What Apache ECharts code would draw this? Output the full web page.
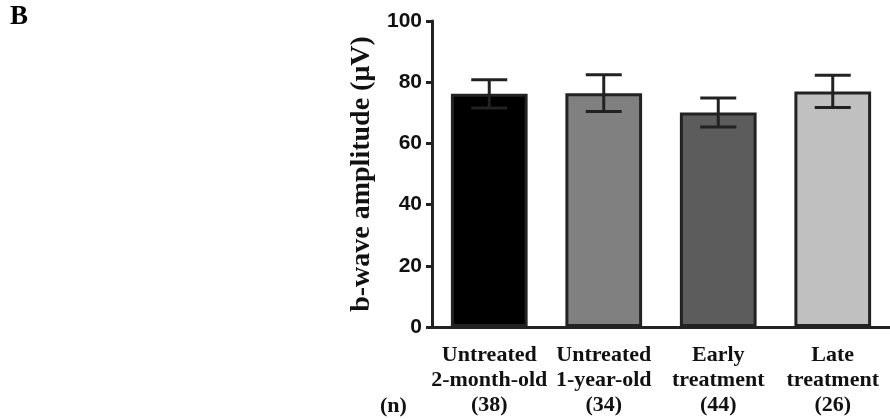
<!DOCTYPE html>
<html>
<head>
<meta charset="utf-8">
<script src="https://cdn.jsdelivr.net/npm/echarts@6/dist/echarts.min.js"></script>
<style>
html,body{margin:0;padding:0;background:#fff;}
#container{width:890px;height:419px;}
</style>
</head>
<body>
<div id="container"></div>
<script>
var groups = ['Untreated\n2-month-old', 'Untreated\n1-year-old', 'Early\ntreatment', 'Late\ntreatment'];
var counts = [38, 34, 44, 26];
var means = [76.2, 76.4, 70.1, 77.0];
var sems = [4.6, 6.0, 4.7, 5.3];
var barColors = ['#000000', '#808080', '#5c5c5c', '#c0c0c0'];
var yTicks = [0, 20, 40, 60, 80, 100];

var myChart = echarts.init(document.getElementById('container'));

var option = {
	animation: false,
	grid: {
		left: 432,
		right: 0,
		top: 21,
		bottom: 92
	},
	xAxis: {
		type: 'category',
		data: groups,
		axisLine: { lineStyle: { color: '#222', width: 3 } },
		axisTick: { alignWithLabel: true, length: 7, lineStyle: { color: '#222', width: 3 } },
		axisLabel: {
			interval: 0,
			margin: 16,
			fontFamily: 'Liberation Serif',
			fontWeight: 'bold',
			fontSize: 22,
			lineHeight: 25,
			color: '#111',
			formatter: function(v, i) {
				return v + '\n(' + counts[i] + ')';
			}
		}
	},
	yAxis: {
		type: 'value',
		min: yTicks[0],
		max: yTicks[yTicks.length - 1],
		interval: 20,
		name: 'b-wave amplitude (μV)',
		nameLocation: 'middle',
		nameGap: 54,
		nameTextStyle: {
			fontFamily: 'Liberation Serif',
			fontWeight: 'bold',
			fontSize: 28,
			color: '#111'
		},
		splitLine: { show: false },
		axisLine: { show: true, lineStyle: { color: '#222', width: 3 } },
		axisTick: { show: true, length: 6, lineStyle: { color: '#222', width: 3 } },
		axisLabel: {
			margin: 10,
			fontFamily: 'Liberation Sans',
			fontWeight: 'bold',
			fontSize: 21,
			color: '#111'
		}
	},
	graphic: [
		{
			type: 'text',
			left: 10,
			top: 4,
			style: { text: 'B', font: 'bold 27px "Liberation Serif"', fill: '#000' }
		},
		{
			type: 'text',
			left: 380,
			top: 395,
			style: { text: '(n)', font: 'bold 22px "Liberation Serif"', fill: '#111' }
		}
	],
	series: [
		{
			type: 'bar',
			barWidth: '67%',
			data: means.map(function(v, i) {
				return {
					value: v,
					itemStyle: { color: barColors[i], borderColor: '#222', borderWidth: 3 }
				};
			})
		},
		{
			type: 'custom',
			z: 5,
			data: means.map(function(v, i) { return [i, v - sems[i], v + sems[i]]; }),
			renderItem: function(params, api) {
				var lo = api.coord([api.value(0), api.value(1)]);
				var hi = api.coord([api.value(0), api.value(2)]);
				var half = 18;
				var st = { stroke: '#222', lineWidth: 3 };
				return {
					type: 'group',
					children: [
						{ type: 'line', shape: { x1: hi[0], y1: hi[1], x2: lo[0], y2: lo[1] }, style: st },
						{ type: 'line', shape: { x1: hi[0] - half, y1: hi[1], x2: hi[0] + half, y2: hi[1] }, style: st },
						{ type: 'line', shape: { x1: lo[0] - half, y1: lo[1], x2: lo[0] + half, y2: lo[1] }, style: st }
					]
				};
			}
		}
	]
};
myChart.setOption(option);
</script>
</body>
</html>
